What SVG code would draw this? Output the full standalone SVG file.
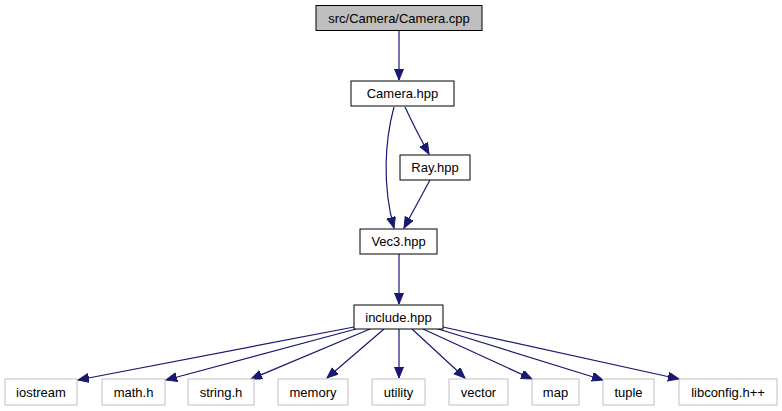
<svg xmlns="http://www.w3.org/2000/svg" width="782" height="411" viewBox="0 0 782 411">
<style>
.n rect{fill:#fff;stroke:#000;stroke-width:1}
.g rect{fill:#fff;stroke:#bfbfbf;stroke-width:1}
.root rect{fill:#bfbfbf;stroke:#000}
text{font-family:"Liberation Sans",Arial,sans-serif;font-size:13px;fill:#000;text-anchor:middle}
.e{fill:none;stroke:#191970;stroke-width:1.2}
</style>
<defs>
<marker id="a" markerUnits="userSpaceOnUse" markerWidth="12" markerHeight="10" refX="11" refY="4.5" orient="auto">
<path d="M0,0 L11,4.5 L0,9 Z" fill="#191970" stroke="#191970"/>
</marker>
</defs>
<g id="connectors">
<path class="e" d="M399,31 L399,80" marker-end="url(#a)"/>
<path class="e" d="M394,107 C385,140 382,185 394,228" marker-end="url(#a)"/>
<path class="e" d="M405,107 C412,122 420,138 429,154" marker-end="url(#a)"/>
<path class="e" d="M430,180 L404,228" marker-end="url(#a)"/>
<path class="e" d="M399,254 L399,304" marker-end="url(#a)"/>
<path class="e" d="M354,327 L78,380" marker-end="url(#a)"/>
<path class="e" d="M356,329 L166,380" marker-end="url(#a)"/>
<path class="e" d="M370,329 L251,379" marker-end="url(#a)"/>
<path class="e" d="M384,329 L327,378" marker-end="url(#a)"/>
<path class="e" d="M399,329 L399,378" marker-end="url(#a)"/>
<path class="e" d="M412,329 L465,378" marker-end="url(#a)"/>
<path class="e" d="M423,329 L532,379" marker-end="url(#a)"/>
<path class="e" d="M435,328 L603,380" marker-end="url(#a)"/>
<path class="e" d="M443,327 L679,379" marker-end="url(#a)"/>
</g>
<g id="node_camera_cpp" class="root"><rect x="316" y="5.5" width="166" height="25"/><text x="399" y="23">src/Camera/Camera.cpp</text></g>
<g id="node_camera_hpp" class="n"><rect x="351" y="81" width="103" height="25"/><text x="402.5" y="98">Camera.hpp</text></g>
<g id="node_ray_hpp" class="n"><rect x="400" y="155" width="70" height="25"/><text x="435" y="172">Ray.hpp</text></g>
<g id="node_vec3_hpp" class="n"><rect x="360" y="229" width="77" height="25"/><text x="398.5" y="246">Vec3.hpp</text></g>
<g id="node_include_hpp" class="n"><rect x="354" y="305" width="89" height="24"/><text x="398.5" y="322">include.hpp</text></g>
<g id="node_iostream" class="g"><rect x="5" y="379" width="72" height="26"/><text x="41" y="397">iostream</text></g>
<g id="node_math_h" class="g"><rect x="102" y="379" width="63" height="26"/><text x="133.5" y="397">math.h</text></g>
<g id="node_string_h" class="g"><rect x="188" y="379" width="66" height="26"/><text x="221" y="397">string.h</text></g>
<g id="node_memory" class="g"><rect x="278" y="379" width="70" height="26"/><text x="313" y="397">memory</text></g>
<g id="node_utility" class="g"><rect x="372" y="379" width="53" height="26"/><text x="398.5" y="397">utility</text></g>
<g id="node_vector" class="g"><rect x="449" y="379" width="59" height="26"/><text x="478.5" y="397">vector</text></g>
<g id="node_map" class="g"><rect x="532" y="379" width="47" height="26"/><text x="555.5" y="397">map</text></g>
<g id="node_tuple" class="g"><rect x="603" y="379" width="51" height="26"/><text x="628.5" y="397">tuple</text></g>
<g id="node_libconfig" class="g"><rect x="679" y="379" width="98" height="26"/><text x="728" y="397">libconfig.h++</text></g>
</svg>
